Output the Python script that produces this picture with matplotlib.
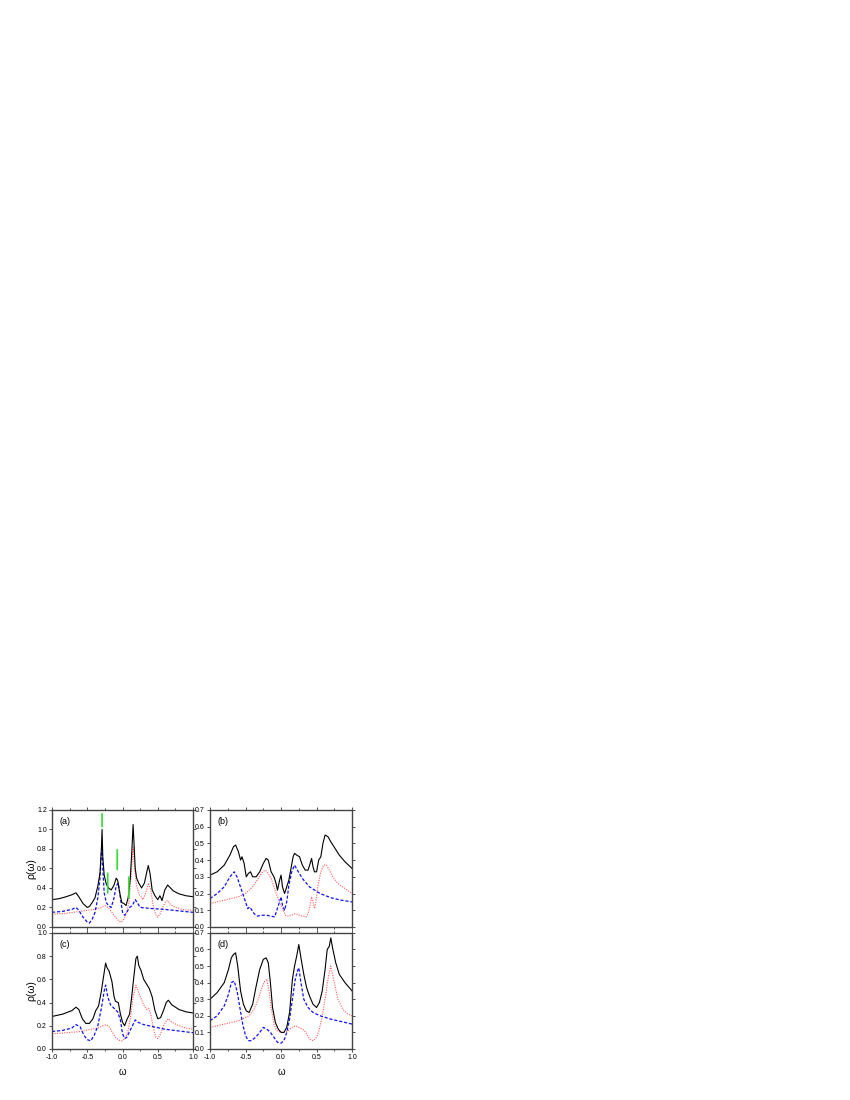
import numpy as np
import matplotlib
matplotlib.use("Agg")
import matplotlib.pyplot as plt
from matplotlib.ticker import MultipleLocator

plt.rcParams['font.family'] = ['Liberation Sans', 'DejaVu Sans']

# ======================================================
# DATI
# ======================================================
# --- pannello (a) ---
a_x_tot = [-1.0, -0.9, -0.8, -0.72, -0.66, -0.62, -0.56, -0.5, -0.47, -0.43, -0.39, -0.35, -0.32,
           -0.30, -0.29, -0.28, -0.26, -0.23, -0.2, -0.16, -0.12, -0.09, -0.07, -0.04, -0.01, 0.02,
           0.05, 0.08, 0.11, 0.13, 0.15, 0.16, 0.18, 0.2, 0.23, 0.27, 0.31, 0.34, 0.365, 0.39, 0.42,
           0.46, 0.5, 0.53, 0.56, 0.6, 0.64, 0.68, 0.72, 0.8, 0.9, 1.0]
a_y_tot = [0.28, 0.29, 0.31, 0.33, 0.35, 0.31, 0.24, 0.2, 0.21, 0.25, 0.3, 0.42, 0.55,
           0.8, 1.0, 0.72, 0.53, 0.44, 0.4, 0.38, 0.43, 0.5, 0.48, 0.35, 0.25, 0.24,
           0.22, 0.3, 0.5, 0.75, 1.05, 0.9, 0.6, 0.5, 0.45, 0.4, 0.45, 0.55, 0.63, 0.55, 0.38,
           0.32, 0.28, 0.32, 0.27, 0.38, 0.43, 0.4, 0.37, 0.34, 0.32, 0.31]
a_x_blu = [-1.0, -0.85, -0.72, -0.66, -0.62, -0.56, -0.5, -0.47, -0.43, -0.39, -0.35, -0.32, -0.30,
           -0.29, -0.28, -0.26, -0.23, -0.2, -0.16, -0.12, -0.09, -0.06, -0.03, 0.0, 0.03, 0.06,
           0.1, 0.14, 0.18, 0.21, 0.25, 0.4, 0.6, 0.8, 1.0]
a_y_blu = [0.15, 0.16, 0.18, 0.2, 0.17, 0.1, 0.05, 0.04, 0.08, 0.15, 0.3, 0.5, 0.75,
           0.85, 0.6, 0.35, 0.25, 0.22, 0.2, 0.3, 0.42, 0.45, 0.3, 0.15, 0.12, 0.15,
           0.2, 0.22, 0.28, 0.25, 0.2, 0.19, 0.18, 0.165, 0.15]
a_x_ros = [-1.0, -0.8, -0.6, -0.4, -0.3, -0.25, -0.2, -0.15, -0.1, -0.05, -0.02, 0.02, 0.06,
           0.09, 0.12, 0.15, 0.17, 0.2, 0.24, 0.29, 0.33, 0.37, 0.4, 0.44, 0.48, 0.5, 0.53,
           0.57, 0.61, 0.64, 0.68, 0.75, 0.85, 1.0]
a_y_ros = [0.13, 0.14, 0.16, 0.18, 0.2, 0.22, 0.2, 0.15, 0.1, 0.06, 0.05, 0.08, 0.15,
           0.25, 0.5, 0.82, 0.6, 0.42, 0.33, 0.28, 0.35, 0.45, 0.38, 0.2, 0.11, 0.1, 0.13,
           0.2, 0.26, 0.27, 0.23, 0.2, 0.18, 0.17]
# frecce verdi: (x, y inizio, y fine)
frecce_x = [-0.29, -0.21, -0.075, 0.09]
frecce_y0 = [1.19, 0.58, 0.82, 0.54]
frecce_y1 = [1.0, 0.32, 0.56, 0.27]

# --- pannello (b) ---
b_x_tot = [-1.0, -0.9, -0.8, -0.72, -0.67, -0.64, -0.6, -0.57, -0.55, -0.52, -0.49, -0.46, -0.43,
           -0.4, -0.35, -0.3, -0.25, -0.21, -0.18, -0.14, -0.1, -0.07, -0.05, -0.02, 0.0, 0.02,
           0.05, 0.08, 0.11, 0.14, 0.17, 0.19, 0.22, 0.26, 0.3, 0.34, 0.38, 0.41, 0.43, 0.45,
           0.47, 0.5, 0.53, 0.56, 0.59, 0.62, 0.66, 0.7, 0.76, 0.82, 0.9, 1.0]
b_y_tot = [0.31, 0.33, 0.37, 0.43, 0.48, 0.49, 0.45, 0.4, 0.42, 0.38, 0.3, 0.32, 0.33,
           0.3, 0.3, 0.33, 0.38, 0.41, 0.4, 0.33, 0.3, 0.26, 0.22, 0.28, 0.31, 0.24,
           0.2, 0.24, 0.28, 0.35, 0.42, 0.44, 0.43, 0.42, 0.37, 0.34, 0.34, 0.38, 0.41, 0.36,
           0.33, 0.33, 0.4, 0.42, 0.5, 0.55, 0.54, 0.51, 0.47, 0.43, 0.39, 0.35]
b_x_blu = [-1.0, -0.9, -0.8, -0.72, -0.66, -0.62, -0.58, -0.54, -0.5, -0.47, -0.44, -0.41, -0.38,
           -0.33, -0.28, -0.2, -0.14, -0.09, -0.06, -0.03, 0.0, 0.02, 0.05, 0.08, 0.11, 0.15,
           0.19, 0.23, 0.3, 0.4, 0.55, 0.7, 0.85, 1.0]
b_y_blu = [0.17, 0.2, 0.24, 0.3, 0.33, 0.3, 0.25, 0.2, 0.15, 0.11, 0.12, 0.1, 0.08,
           0.065, 0.07, 0.07, 0.065, 0.06, 0.1, 0.14, 0.18, 0.13, 0.1, 0.15, 0.25, 0.33,
           0.37, 0.34, 0.29, 0.24, 0.2, 0.175, 0.16, 0.15]
b_x_ros = [-1.0, -0.8, -0.6, -0.5, -0.4, -0.32, -0.26, -0.22, -0.18, -0.14, -0.1, -0.06, -0.02,
           0.02, 0.06, 0.1, 0.15, 0.2, 0.26, 0.3, 0.35, 0.38, 0.41, 0.43, 0.45, 0.47, 0.49,
           0.52, 0.56, 0.6, 0.64, 0.68, 0.73, 0.8, 0.9, 1.0]
b_y_ros = [0.14, 0.16, 0.18, 0.2, 0.24, 0.29, 0.33, 0.34, 0.32, 0.29, 0.24, 0.19, 0.15,
           0.11, 0.07, 0.065, 0.07, 0.08, 0.07, 0.065, 0.06, 0.08, 0.13, 0.18, 0.15, 0.11, 0.15,
           0.25, 0.33, 0.37, 0.37, 0.34, 0.3, 0.26, 0.23, 0.2]

# --- pannello (c) ---
c_x_tot = [-1.0, -0.85, -0.72, -0.66, -0.62, -0.57, -0.52, -0.47, -0.42, -0.38, -0.34, -0.3, -0.27,
           -0.24, -0.22, -0.19, -0.15, -0.12, -0.1, -0.06, -0.03, 0.0, 0.03, 0.06, 0.1, 0.13,
           0.16, 0.19, 0.21, 0.23, 0.26, 0.3, 0.34, 0.38, 0.42, 0.46, 0.5, 0.54, 0.58, 0.62,
           0.65, 0.7, 0.8, 0.9, 1.0]
c_y_tot = [0.28, 0.3, 0.33, 0.36, 0.34, 0.26, 0.22, 0.22, 0.26, 0.33, 0.37, 0.5, 0.62,
           0.74, 0.7, 0.67, 0.58, 0.45, 0.41, 0.4, 0.3, 0.23, 0.2, 0.25, 0.3, 0.45,
           0.62, 0.78, 0.8, 0.72, 0.68, 0.6, 0.56, 0.52, 0.45, 0.33, 0.26, 0.27, 0.33, 0.4,
           0.42, 0.38, 0.34, 0.32, 0.31]
c_x_blu = [-1.0, -0.85, -0.72, -0.66, -0.6, -0.55, -0.5, -0.45, -0.4, -0.35, -0.3, -0.26, -0.24,
           -0.21, -0.17, -0.12, -0.07, -0.03, 0.0, 0.03, 0.06, 0.1, 0.14, 0.18, 0.22, 0.3,
           0.45, 0.6, 0.8, 1.0]
c_y_blu = [0.15, 0.16, 0.18, 0.21, 0.19, 0.12, 0.08, 0.07, 0.12, 0.2, 0.35, 0.5, 0.55,
           0.45, 0.38, 0.35, 0.32, 0.25, 0.13, 0.09, 0.1, 0.15, 0.2, 0.25, 0.23, 0.21,
           0.19, 0.17, 0.155, 0.14]
c_x_ros = [-1.0, -0.8, -0.6, -0.45, -0.35, -0.28, -0.23, -0.19, -0.15, -0.1, -0.06, -0.03, 0.0,
           0.04, 0.08, 0.12, 0.15, 0.19, 0.22, 0.26, 0.3, 0.34, 0.37, 0.4, 0.44, 0.47, 0.5,
           0.54, 0.58, 0.62, 0.65, 0.7, 0.8, 0.9, 1.0]
c_y_ros = [0.13, 0.14, 0.15, 0.17, 0.18, 0.2, 0.21, 0.19, 0.15, 0.1, 0.08, 0.07, 0.07,
           0.1, 0.16, 0.3, 0.45, 0.55, 0.5, 0.44, 0.38, 0.34, 0.35, 0.3, 0.17, 0.1, 0.09,
           0.13, 0.2, 0.24, 0.26, 0.23, 0.2, 0.18, 0.17]

# --- pannello (d) ---
d_x_tot = [-1.0, -0.9, -0.8, -0.74, -0.7, -0.67, -0.64, -0.61, -0.57, -0.53, -0.49, -0.45, -0.4,
           -0.35, -0.3, -0.25, -0.21, -0.18, -0.15, -0.12, -0.08, -0.04, 0.0, 0.04, 0.08, 0.12,
           0.16, 0.19, 0.22, 0.25, 0.28, 0.32, 0.36, 0.4, 0.45, 0.5, 0.54, 0.58, 0.62, 0.65,
           0.68, 0.7, 0.73, 0.77, 0.82, 0.9, 1.0]
d_y_tot = [0.3, 0.34, 0.4, 0.48, 0.55, 0.57, 0.58, 0.5, 0.35, 0.27, 0.23, 0.22, 0.27,
           0.38, 0.48, 0.54, 0.55, 0.52, 0.4, 0.25, 0.16, 0.12, 0.1, 0.1, 0.13, 0.22,
           0.42, 0.5, 0.56, 0.63, 0.55, 0.45, 0.37, 0.32, 0.27, 0.25, 0.28, 0.35, 0.48, 0.6,
           0.62, 0.67, 0.6, 0.52, 0.45, 0.4, 0.35]
d_x_blu = [-1.0, -0.9, -0.8, -0.74, -0.7, -0.66, -0.62, -0.58, -0.54, -0.5, -0.46, -0.42, -0.36,
           -0.3, -0.25, -0.2, -0.15, -0.1, -0.05, 0.0, 0.04, 0.08, 0.12, 0.16, 0.2, 0.23,
           0.25, 0.28, 0.32, 0.38, 0.45, 0.55, 0.7, 0.85, 1.0]
d_y_blu = [0.17, 0.2, 0.26, 0.33, 0.4, 0.41, 0.35, 0.25, 0.15, 0.08, 0.05, 0.05, 0.07,
           0.1, 0.13, 0.12, 0.1, 0.07, 0.04, 0.035, 0.05, 0.1, 0.18, 0.3, 0.42, 0.47,
           0.49, 0.4, 0.3, 0.25, 0.22, 0.2, 0.18, 0.165, 0.15]
d_x_ros = [-1.0, -0.8, -0.6, -0.45, -0.38, -0.32, -0.27, -0.23, -0.2, -0.17, -0.14, -0.1, -0.06,
           0.0, 0.05, 0.1, 0.15, 0.2, 0.25, 0.3, 0.35, 0.4, 0.45, 0.5, 0.54, 0.58, 0.62,
           0.66, 0.7, 0.74, 0.8, 0.87, 0.94, 1.0]
d_y_ros = [0.13, 0.15, 0.17, 0.2, 0.24, 0.3, 0.37, 0.41, 0.42, 0.35, 0.25, 0.15, 0.11,
           0.1, 0.1, 0.11, 0.13, 0.14, 0.13, 0.12, 0.1, 0.06, 0.05, 0.07, 0.12, 0.2, 0.3,
           0.42, 0.5, 0.42, 0.3, 0.24, 0.21, 0.2]

# ======================================================
# FIGURA
# ======================================================
fig = plt.figure(figsize=(8.5, 11), dpi=100)

pannelli = [
    ("(a)", [0.0612, 0.1573, 0.1659, 0.1064], 1.2, 0.2,
     (a_x_tot, a_y_tot), (a_x_blu, a_y_blu), (a_x_ros, a_y_ros), True, False),
    ("(b)", [0.2471, 0.1573, 0.1671, 0.1064], 0.7, 0.1,
     (b_x_tot, b_y_tot), (b_x_blu, b_y_blu), (b_x_ros, b_y_ros), False, False),
    ("(c)", [0.0612, 0.0464, 0.1659, 0.1055], 1.0, 0.2,
     (c_x_tot, c_y_tot), (c_x_blu, c_y_blu), (c_x_ros, c_y_ros), True, True),
    ("(d)", [0.2471, 0.0464, 0.1671, 0.1055], 0.7, 0.1,
     (d_x_tot, d_y_tot), (d_x_blu, d_y_blu), (d_x_ros, d_y_ros), False, True),
]

for nome, pos, ymax, ystep, tot, blu, ros, sinistra, sotto in pannelli:
    ax = fig.add_axes(pos)
    ax.plot(ros[0], ros[1], color="#ff5a5a", lw=0.8, ls=(0, (1, 1.2)))
    ax.plot(blu[0], blu[1], color="#1010ff", lw=0.9, ls=(0, (2.5, 1.5)))
    ax.plot(tot[0], tot[1], color="black", lw=0.8)

    ax.set_xlim(-1.0, 1.0)
    ax.set_ylim(0.0, ymax)
    ax.xaxis.set_major_locator(MultipleLocator(0.5))
    ax.xaxis.set_minor_locator(MultipleLocator(0.25))
    ax.yaxis.set_major_locator(MultipleLocator(ystep))
    ax.yaxis.set_major_formatter(plt.FormatStrFormatter("%.1f"))
    ax.xaxis.set_major_formatter(plt.FormatStrFormatter("%.1f"))
    ax.tick_params(which="both", direction="out", top=True, right=True,
                   labelsize=5, width=0.6, color="#333333", pad=1.2)
    ax.tick_params(which="major", length=2.5)
    ax.tick_params(which="minor", length=1.5)
    for s in ax.spines.values():
        s.set_linewidth(1.0)
        s.set_color("#444444")

    if not sotto:
        ax.tick_params(labelbottom=False)
    else:
        ax.set_xlabel("ω", fontsize=7, labelpad=4)
    if sinistra:
        ax.set_ylabel("ρ(ω)", fontsize=7.5, labelpad=0.5)

    ax.text(0.05, 0.9, nome, transform=ax.transAxes, fontsize=6.5, va="center")

    if nome == "(a)":
        for xf, y0, y1 in zip(frecce_x, frecce_y0, frecce_y1):
            ax.annotate("", xy=(xf, y1), xytext=(xf, y0),
                        arrowprops=dict(arrowstyle="-", color="#33dd33", lw=1.2))

fig.savefig("out.png", dpi=100)
